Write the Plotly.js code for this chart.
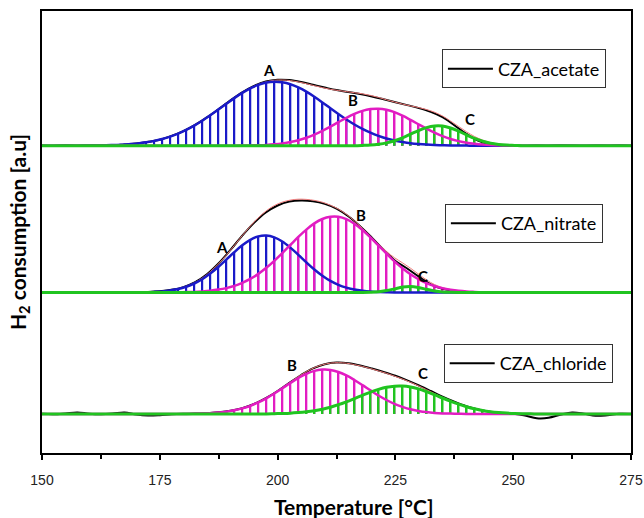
<!DOCTYPE html>
<html><head><meta charset="utf-8">
<script src="https://cdn.plot.ly/plotly-3.0.1.min.js"></script>
<style>html,body{margin:0;padding:0;background:#fff}#chart{width:644px;height:518px}</style>
</head><body><div id="chart"></div>
<script>
// Temperature grid of the experimental TPR traces (°C)
const T_EXP = [150,152.5,155,157.5,160,162.5,165,167.5,170,172.5,175,177.5,180,182.5,185,187.5,190,192.5,195,197.5,
  200,202.5,205,207.5,210,212.5,215,217.5,220,222.5,225,227.5,230,232.5,235,237.5,240,242.5,245,247.5,
  250,252.5,255,257.5,260,262.5,265,267.5,270,272.5,275];

// Temperature grid of the deconvoluted (fitted) peaks (°C)
const T_FIT = [150.0,151.7,153.4,155.1,156.8,158.5,160.2,161.9,163.6,165.3,
  167.0,168.7,170.4,172.1,173.8,175.5,177.2,178.9,180.6,182.3,
  184.0,185.7,187.4,189.1,190.8,192.5,194.2,195.9,197.6,199.3,
  201.0,202.7,204.4,206.1,207.8,209.5,211.2,212.9,214.6,216.3,
  218.0,219.7,221.4,223.1,224.8,226.5,228.2,229.9,231.6,233.3,
  235.0,236.7,238.4,240.1,241.8,243.5,245.2,246.9,248.6,250.3,
  252.0,253.7,255.4,257.1,258.8,260.5,262.2,263.9,265.6,267.3,
  269.0,270.7,272.4,274.1,275.8];

// Experimental H2 consumption (a.u.)
const EXP_ACETATE = [0.3,-0.2,0.4,0,0.3, 0.5,0.4,1.3,2.2,3.9, 6.0,9.8,14.6,20.8,28.3, 36.6,45.3,53.3,59.8,64.2,
  65.9,65.6,63.7,61.0,58.2, 55.6,53.8,51.7,49.2,46.4, 43.5,40.6,37.6,33.8,28.5, 20.5,12.0,5.2,1.6,0.4,
  0.2,-0.3,0.3,-0.2,0.4, 0.1,-0.3,0.3,0,0.4, -0.2];
const EXP_NITRATE = [0.2,-0.3,0.3,-0.2,0.1, -0.3,0.2,0.1,0.3,0.6, 1.3,2.7,5.4,10.3,18.2, 29.2,42.6,56.8,69.6,80.0,
  87.0,90.9,92.0,91.2,88.6, 83.8,76.2,66.3,54.9,42.8, 31.5,24.0,15.8,8.2,3.6, 1.5,0.6,0.2,-0.2,0.3,
  -0.3,0.2,-0.4,0.1,-0.3, 0.2,-0.3,0.1,-0.2,0.3, 0];
const EXP_CHLORIDE = [0.2,-0.2,0.6,1.6,0.3, -0.2,0.4,1.6,-0.6,-1.6, -1.2,-0.3,0.2,0.5,0.8, 1.7,3.2,5.8,10.0,15.8,
  23.0,31.2,39.0,45.6,49.8, 51.4,50.8,48.6,45.5,42.0, 38.2,33.6,28.5,23.0,17.3, 12.2,7.8,4.6,2.3,1.0,
  0.2,-1.5,-4.2,-3.8,-0.8, 1.5,0.3,-1.8,-1.2,0.2, 0];

// Deconvoluted peaks (a.u.) on T_FIT
const ACETATE_A = [0,0,0,0,0, 0.1,0.2,0.3,0.4,0.7, 1.0,1.6,2.3,3.4,4.8, 6.7,9.1,12.1,15.8,20.1,
  25.0,30.4,36.1,41.9,47.6, 52.8,57.3,60.8,63.1,64.0, 63.4,61.5,58.3,54.0,48.9, 43.3,37.4,31.7,26.2,21.2,
  16.8,13.0,9.8,7.2,5.2, 3.7,2.5,1.7,1.1,0.7, 0.5,0.3,0.2,0.1,0, 0,0,0,0,0, 0,0,0,0,0, 0,0,0,0,0, 0,0,0,0,0];
const ACETATE_B = [0,0,0,0,0, 0,0,0,0,0, 0,0,0,0,0, 0,0,0,0,0, 0,0,0,0,0,
  0.1,0.3,0.5,0.8,1.4, 2.3,3.6,5.5,8.0,11.1, 14.8,19.0,23.5,27.9,31.8, 34.8,36.6,37.0,35.9,33.5,
  30.0,25.8,21.4,17.0,13.0, 9.5,6.7,4.6,3.0,1.9, 1.1,0.6,0.4,0.2,0, 0,0,0,0,0, 0,0,0,0,0, 0,0,0,0,0];
const ACETATE_C = [0,0,0,0,0, 0,0,0,0,0, 0,0,0,0,0, 0,0,0,0,0, 0,0,0,0,0, 0,0,0,0,0, 0,0,0,0,0, 0,0,0,0,0,
  0.3,0.7,1.5,2.8,5.0, 7.9,11.5,15.1,18.1,19.8, 19.7,17.7,14.5,10.8,7.3, 4.5,2.5,1.3,0.6,0.3,
  0,0,0,0,0, 0,0,0,0,0, 0,0,0,0,0];
const NITRATE_A = [0,0,0,0,0, 0,0,0,0,0, 0,0,0.1,0.3,0.6, 1.1,2.1,3.5,5.8,9.0, 13.3,18.9,25.5,32.8,40.3,
  47.2,52.7,56.1,57.0,55.2, 51.0,44.9,37.7,30.2,23.0, 16.8,11.6,7.7,4.9,2.9, 1.7,0.9,0.5,0.2,0,
  0,0,0,0,0, 0,0,0,0,0, 0,0,0,0,0, 0,0,0,0,0, 0,0,0,0,0, 0,0,0,0,0];
const NITRATE_B = [0,0,0,0,0, 0,0,0,0,0, 0,0,0,0,0, 0,0,0.2,0.4,0.6, 1.1,1.8,2.9,4.4,6.6,
  9.7,13.6,18.6,24.7,31.7, 39.4,47.5,55.6,62.9,69.1, 73.5,75.7,75.7,73.3,68.7, 62.5,55.1,47.0,39.0,31.2,
  24.3,18.3,13.4,9.4,6.5, 4.3,2.8,1.7,1.0,0.6, 0.3,0.2,0,0,0, 0,0,0,0,0, 0,0,0,0,0, 0,0,0,0,0];
const NITRATE_C = [0,0,0,0,0, 0,0,0,0,0, 0,0,0,0,0, 0,0,0,0,0, 0,0,0,0,0, 0,0,0,0,0, 0,0,0,0,0, 0,0,0,0,0,
  0,0.2,0.7,1.9,3.6, 5.4,6.0,5.0,3.2,1.5, 0.5,0.2,0,0,0,
  0,0,0,0,0, 0,0,0,0,0, 0,0,0,0,0, 0,0,0,0,0];
const CHLORIDE_B = [0,0,0,0,0, 0,0,0,0,0, 0,0,0,0,0, 0,0,0,0,0.2, 0.5,0.8,1.4,2.3,3.7,
  5.6,8.2,11.6,15.7,20.5, 25.7,31.0,36.0,40.1,43.1, 44.4,44.1,42.0,38.6,34.0, 28.9,23.6,18.5,14.0,10.1,
  7.1,4.7,3.1,1.9,1.1, 0.6,0.4,0.2,0,0, 0,0,0,0,0, 0,0,0,0,0, 0,0,0,0,0, 0,0,0,0,0];
const CHLORIDE_C = [0,0,0,0,0, 0,0,0,0,0, 0,0,0,0,0, 0,0,0,0,0, 0,0,0,0,0,
  0,0,0.1,0.1,0.3, 0.5,0.8,1.4,2.2,3.3, 4.8,6.8,9.3,12.2,15.4, 18.7,21.9,24.6,26.7,27.8,
  27.9,27.0,25.1,22.4,19.3, 16.0,12.8,9.8,7.3,5.2, 3.5,2.3,1.5,0.9,0.5, 0.3,0.2,0,0,0,
  0,0,0,0,0, 0,0,0,0,0];

const SAMPLES = ['CZA_acetate','CZA_nitrate','CZA_chloride'];
const PEAK_LABELS = ['A','B','C'];

// ---- layout / style ----
const OFFSET = {CZA_acetate:307.3, CZA_nitrate:160.5, CZA_chloride:39};
const LEGEND_ID = {CZA_acetate:'legend', CZA_nitrate:'legend2', CZA_chloride:'legend3'};
const COLORS = {A:'#1a1ac8', B:'#e21cc2', C:'#20c420'};
const panels = [
  {name:'CZA_acetate', exp:EXP_ACETATE, peaks:{A:ACETATE_A, B:ACETATE_B, C:ACETATE_C}},
  {name:'CZA_nitrate', exp:EXP_NITRATE, peaks:{A:NITRATE_A, B:NITRATE_B, C:NITRATE_C}},
  {name:'CZA_chloride', exp:EXP_CHLORIDE, peaks:{B:CHLORIDE_B, C:CHLORIDE_C}}
];

const traces = [];
panels.forEach(p => {
  const o = OFFSET[p.name];
  const keys = PEAK_LABELS.filter(k => p.peaks[k]);
  // hatching (drop lines) of each peak
  keys.forEach(k => {
    traces.push({type:'bar', x:T_FIT, y:p.peaks[k], base:o, width:0.42,
      marker:{color:COLORS[k], line:{width:0}}, showlegend:false, hoverinfo:'skip'});
  });
});
panels.forEach(p => {
  const o = OFFSET[p.name];
  const keys = PEAK_LABELS.filter(k => p.peaks[k]);
  // experimental curve
  traces.push({type:'scatter', mode:'lines', x:T_EXP, y:p.exp.map(v => v + o),
    line:{color:'#000', width:2, shape:'spline'}, name:p.name, legend:LEGEND_ID[p.name]});
  // cumulative fit = sum of the peaks
  const fit = T_FIT.map((t, i) => keys.reduce((s, k) => s + p.peaks[k][i], 0) + o);
  traces.push({type:'scatter', mode:'lines', x:T_FIT, y:fit,
    line:{color:'#f07a7a', width:1, shape:'spline'}, showlegend:false, hoverinfo:'skip'});
  // peak curves
  keys.forEach(k => {
    traces.push({type:'scatter', mode:'lines', x:T_FIT, y:p.peaks[k].map(v => v + o),
      line:{color:COLORS[k], width:k === 'C' ? 3 : 2.5, shape:'spline'}, showlegend:false, hoverinfo:'skip'});
  });
});

const lblFont = {family:'Lato, sans-serif', size:15, color:'#000', weight:'bold'};
const peakLabel = (x, y, t) => ({x, y, xref:'x', yref:'y', text:t, showarrow:false, font:lblFont});
const legendBase = {bgcolor:'#fff', bordercolor:'#333', borderwidth:1, xanchor:'left', yanchor:'top',
  font:{family:'Lato, sans-serif', size:18, color:'#000'}, itemwidth:45};

const layout = {
  width:644, height:518,
  margin:{l:42, r:13, t:11, b:65},
  paper_bgcolor:'#fff', plot_bgcolor:'#fff',
  barmode:'overlay',
  xaxis:{range:[150,275], tickmode:'linear', tick0:150, dtick:25,
    ticks:'outside', ticklen:5, tickwidth:1.5, tickcolor:'#000',
    showline:true, linewidth:1.5, linecolor:'#000', mirror:true,
    showgrid:false, zeroline:false, ticklabelstandoff:8,
    tickfont:{family:'Liberation Sans, Arial, sans-serif', size:14, color:'#222'},
    minor:{dtick:12.5, tick0:150, ticks:'outside', ticklen:4, tickwidth:1.5, tickcolor:'#000', showgrid:false}},
  yaxis:{range:[0,442], showticklabels:false, ticks:'', showline:true, linewidth:1.5, linecolor:'#000',
    mirror:true, showgrid:false, zeroline:false, automargin:false,
    title:{text:'H<sub>2</sub> consumption [a.u]', standoff:8,
      font:{family:'Lato, sans-serif', size:21, color:'#000', weight:'bold'}}},
  legend:Object.assign({}, legendBase, {x:0.679, y:0.913}),
  legend2:Object.assign({}, legendBase, {x:0.684, y:0.563}),
  legend3:Object.assign({}, legendBase, {x:0.682, y:0.2466}),
  annotations:[
    peakLabel(198.2, 383, 'A'), peakLabel(216, 353, 'B'), peakLabel(240.8, 334, 'C'),
    peakLabel(188.1, 206.3, 'A'), peakLabel(217.8, 238, 'B'), peakLabel(230.9, 177, 'C'),
    peakLabel(203, 88, 'B'), peakLabel(230.9, 80.3, 'C'),
    {xref:'paper', yref:'paper', x:0.529, y:-0.122, yanchor:'middle', text:'Temperature [°C]', showarrow:false,
     font:{family:'Lato, sans-serif', size:21, color:'#000', weight:'bold'}}
  ]
};

Plotly.newPlot('chart', traces, layout, {displayModeBar:false, responsive:false});
</script>
</body></html>
